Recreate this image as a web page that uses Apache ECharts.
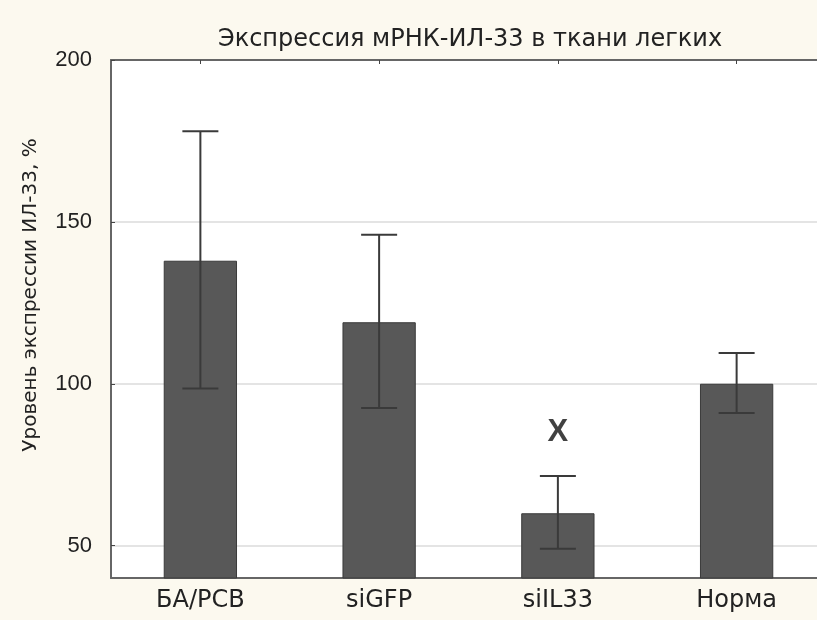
<!DOCTYPE html>
<html>
<head>
<meta charset="utf-8">
<script src="https://cdn.jsdelivr.net/npm/echarts@6/dist/echarts.min.js"></script>
<style>
html,body{margin:0;padding:0;background:#fcf9ef;}
#chart{width:817px;height:620px;}
</style>
</head>
<body>
<div id="chart"></div>
<script>
const titleText = 'Экспрессия мРНК-ИЛ-33 в ткани легких';
const yAxisName = 'Уровень экспрессии ИЛ-33, %';
const categories = ['БА/PCB', 'siGFP', 'siIL33', 'Норма'];
const meanValues = [138, 119, 60, 100];
const upperValues = [178, 146, 71.5, 109.5];
const lowerValues = [98.5, 92.5, 49, 91];
const yTicks = [50, 100, 150, 200];
const annotCategory = 'siIL33';
const annotValue = 85;
const annotText = 'X';

const font = '"Liberation Sans", Arial, sans-serif';
const wideFont = '"DejaVu Sans", sans-serif';
const chart = echarts.init(document.getElementById('chart'), null, {renderer: 'canvas'});

const errData = categories.map((c, i) => [i, lowerValues[i], upperValues[i]]);

chart.setOption({
  backgroundColor: '#fcf9ef',
  animation: false,
  title: {
    text: titleText,
    left: 465, top: 23, textAlign: 'center',
    textStyle: {fontFamily: wideFont, fontSize: 24, fontWeight: 'normal', color: '#222'}
  },
  grid: {
    left: 111, top: 60, right: -9, bottom: 42,
    outerBoundsMode: 'none', containLabel: false,
    show: true, backgroundColor: '#ffffff', borderWidth: 0
  },
  xAxis: [{
    type: 'category', data: categories, position: 'bottom',
    axisLine: {show: true, lineStyle: {color: '#666', width: 2}},
    axisTick: {show: true, inside: true, alignWithLabel: true, length: 4, lineStyle: {color: '#444'}},
    axisLabel: {fontFamily: wideFont, fontSize: 24, color: '#222', margin: 11},
    splitLine: {show: false}
  }, {
    type: 'category', data: categories, position: 'top',
    axisLine: {show: true, onZero: false, lineStyle: {color: '#666', width: 2}},
    axisTick: {show: true, inside: true, alignWithLabel: true, length: 4, lineStyle: {color: '#444'}},
    axisLabel: {show: false}
  }],
  yAxis: {
    type: 'value', min: 40, max: 200,
    name: yAxisName, nameLocation: 'middle', nameGap: 70, nameRotate: 90,
    nameTextStyle: {fontFamily: wideFont, fontSize: 20, color: '#222', padding: [0, 0, 0, 48]},
    axisLine: {show: true, lineStyle: {color: '#666', width: 2}},
    axisTick: {show: true, inside: true, length: 4, customValues: yTicks, lineStyle: {color: '#444'}},
    axisLabel: {fontFamily: font, fontSize: 22, color: '#222', margin: 19, customValues: yTicks},
    splitLine: {show: true, lineStyle: {color: '#e4e4e4', width: 2}}
  },
  series: [{
    type: 'bar', data: meanValues, barWidth: '41%',
    itemStyle: {color: '#585858', borderColor: '#3a3a3a', borderWidth: 1}
  }, {
    type: 'custom', data: errData, z: 5,
    renderItem: function (params, api) {
      const x = api.value(0);
      const lo = api.coord([x, api.value(1)]);
      const hi = api.coord([x, api.value(2)]);
      const half = 18;
      const style = {stroke: '#3a3a3a', lineWidth: 2};
      return {type: 'group', children: [
        {type: 'line', shape: {x1: lo[0], y1: lo[1], x2: hi[0], y2: hi[1]}, style: style},
        {type: 'line', shape: {x1: hi[0] - half, y1: hi[1], x2: hi[0] + half, y2: hi[1]}, style: style},
        {type: 'line', shape: {x1: lo[0] - half, y1: lo[1], x2: lo[0] + half, y2: lo[1]}, style: style}
      ]};
    }
  }, {
    type: 'scatter', data: [[annotCategory, annotValue]], symbolSize: 1,
    itemStyle: {color: 'rgba(0,0,0,0)'},
    label: {show: true, position: 'inside', formatter: annotText,
      fontFamily: font, fontSize: 31, fontWeight: 'bold', color: '#111'}
  }]
});
</script>
</body>
</html>
